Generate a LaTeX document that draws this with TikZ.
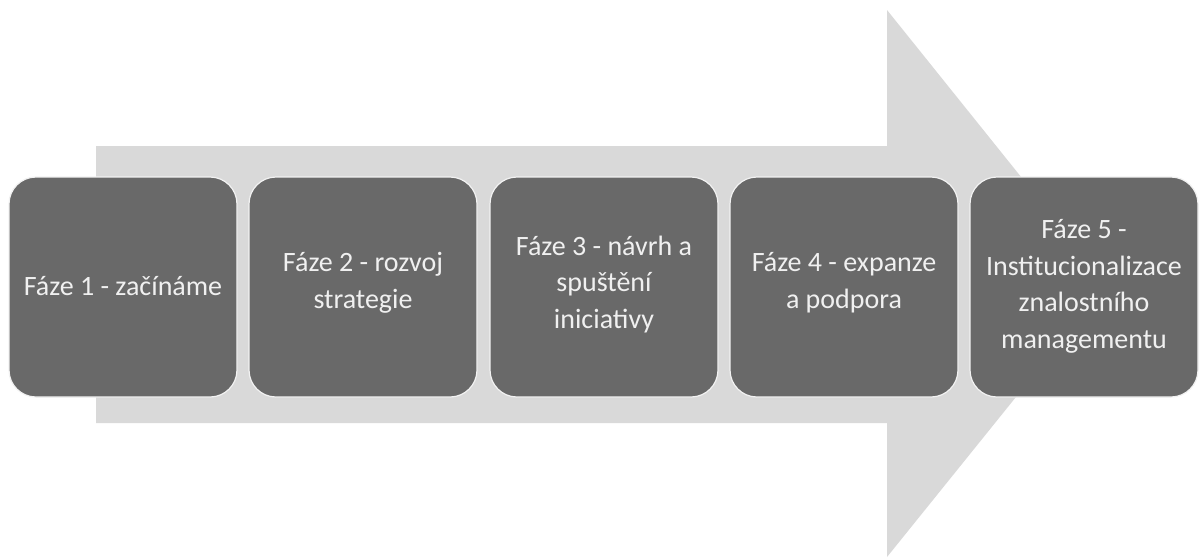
\documentclass[tikz,border=0pt]{standalone}
\usepackage{fontspec}
\setmainfont{Carlito}
\definecolor{arrowgray}{HTML}{D9D9D9}
\definecolor{boxgray}{HTML}{696969}
\definecolor{txt}{HTML}{F0F0F0}
\begin{document}
\begin{tikzpicture}[x=1pt,y=-1pt,
  phase/.style={draw=white!90!gray, line width=1.2pt, fill=boxgray, rounded corners=27pt},
  lbl/.style={text=txt, align=center, anchor=base, inner sep=0pt,
    font=\fontsize{28}{36.5}\selectfont}]
\useasboundingbox[fill=white] (0,0) rectangle (1202,558);
% big arrow
\coordinate (a1) at (96,146);
\coordinate (a2) at (887,146);
\coordinate (a3) at (887,10);
\coordinate (tip) at (1107,284);
\coordinate (a5) at (887,557);
\coordinate (a6) at (887,423);
\coordinate (a7) at (96,423);
\fill[arrowgray] (a1) -- (a2) -- (a3) -- (tip) -- (a5) -- (a6) -- (a7) -- cycle;
% phase boxes
\path[phase] (9,177) rectangle (237,397);
\path[phase] (249,177) rectangle (477,397);
\path[phase] (490,177) rectangle (718,397);
\path[phase] (730,177) rectangle (958,397);
\path[phase] (970,177) rectangle (1198,397);
% texts (base anchor = baseline of last line)
\node[lbl] (t1) at (123,295) {Fáze 1 - začínáme};
\node[lbl] (t2) at (363,308) {Fáze 2 - rozvoj\\strategie};
\node[lbl] (t3) at (604,328) {Fáze 3 - návrh a\\spuštění\\iniciativy};
\node[lbl] (t4) at (844,308) {Fáze 4 - expanze\\a podpora};
\node[lbl] (t5) at (1084,348) {Fáze 5 -\\Institucionalizace\\znalostního\\managementu};
\end{tikzpicture}
\end{document}
